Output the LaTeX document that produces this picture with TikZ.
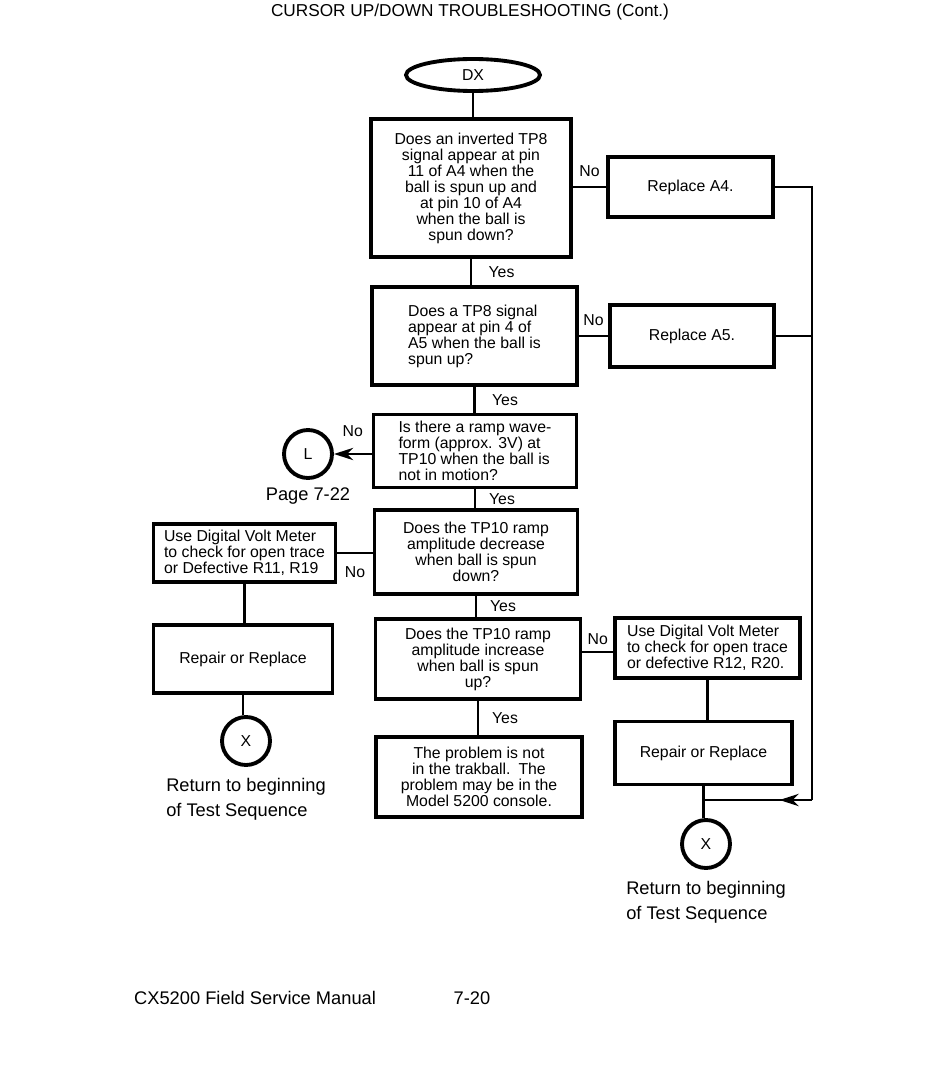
\documentclass[tikz,border=0pt]{standalone}
\usepackage{fontspec}
\setmainfont{Liberation Sans}
\usetikzlibrary{arrows.meta,shapes.geometric,decorations.markings}
\begin{document}
\begin{tikzpicture}[x=0.02cm,y=-0.02cm,
        box/.style={draw,line width=2.2pt,inner sep=2pt,font=\fontsize{9}{9.1}\selectfont},
        link/.style={line width=1.4pt},
        conn/.style={draw,circle,line width=2.2pt,minimum size=0.96cm,inner sep=0pt,font=\small},
        lbl/.style={font=\fontsize{9}{9}\selectfont},
        note/.style={font=\fontsize{10.4}{14}\selectfont,align=left}]
            \useasboundingbox (0,0) rectangle (950,1081);
            % header and footer
            \node (title) at (470,12) {\fontsize{9.8}{11}\selectfont CURSOR UP/DOWN TROUBLESHOOTING (Cont.)};
            \node[note,anchor=west] (manual) at (128,998) {CX5200 Field Service Manual};
            \node[note] (page) at (472,998) {7-20};
            % main column
            \node[draw,ellipse,line width=2.2pt,minimum width=2.68cm,minimum height=0.64cm,font=\small] (dx) at (473,75) {DX};
            \node[box,align=center,minimum width=4cm,minimum height=2.76cm] (q1) at (471,188) {Does an inverted TP8\\signal appear at pin\\11 of A4 when the\\ball is spun up and\\at pin 10 of A4\\when the ball is\\spun down?};
            \node[box,align=left,minimum width=4.1cm,minimum height=1.96cm] (q2) at (474.5,336) {Does a TP8 signal\\appear at pin 4 of\\A5 when the ball is\\spun up?};
            \node[box,align=left,minimum width=4.06cm,minimum height=1.46cm] (q3) at (475,451) {Is there a ramp wave-\\form (approx. 3V) at\\TP10 when the ball is\\not in motion?};
            \node[box,align=center,minimum width=4.06cm,minimum height=1.68cm] (q4) at (476,552) {Does the TP10 ramp\\amplitude decrease\\when ball is spun\\down?};
            \node[box,align=center,minimum width=4.1cm,minimum height=1.6cm] (q5) at (478,659) {Does the TP10 ramp\\amplitude increase\\when ball is spun\\up?};
            \node[box,align=center,minimum width=4.12cm,minimum height=1.6cm] (done) at (479,777) {The problem is not\\in the trakball.\enspace The\\problem may be in the\\Model 5200 console.};
            % right side
            \node[box,minimum width=3.3cm,minimum height=1.2cm] (a4) at (690.5,187) {Replace A4.};
            \node[box,minimum width=3.28cm,minimum height=1.24cm] (a5) at (692,336) {Replace A5.};
            \node[box,align=left,minimum width=3.7cm,minimum height=1.2cm] (dvm2) at (707.5,648) {Use Digital Volt Meter\\to check for open trace\\or defective R12, R20.};
            \node[box,minimum width=3.54cm,minimum height=1.26cm] (fix2) at (703.5,753) {Repair or Replace};
            \node[conn] (x2) at (706,844) {X};
            \node[note,below=3pt] (back2) at (x2.south) {Return to beginning\\of Test Sequence};
            % left side
            \node[conn] (l) at (308,454) {L};
            \node[note,below=1pt] (pg) at (l.south) {Page 7-22};
            \node[box,align=left,minimum width=3.64cm,minimum height=1.16cm] (dvm1) at (244.5,553) {Use Digital Volt Meter\\to check for open trace\\or Defective R11, R19};
            \node[box,minimum width=3.58cm,minimum height=1.36cm] (fix1) at (243,659) {Repair or Replace};
            \node[conn] (x1) at (246,741) {X};
            \node[note,below=3pt] (back1) at (x1.south) {Return to beginning\\of Test Sequence};
            % yes branches
            \draw[link] (dx.south) -- (dx.south |- q1.north);
            \draw[link] (q1.south) -- (q1.south |- q2.north) node[lbl,midway,right=6pt] {Yes};
            \draw[link] (q2.south) -- (q2.south |- q3.north) node[lbl,midway,right=6pt] {Yes};
            \draw[link] (q3.south) -- (q3.south |- q4.north) node[lbl,midway,right=4pt] {Yes};
            \draw[link] (q4.south) -- (q4.south |- q5.north) node[lbl,midway,right=4pt] {Yes};
            \draw[link] (q5.south) -- (q5.south |- done.north) node[lbl,midway,right=4pt] {Yes};
            % no branches
            \draw[link] (q1.east |- a4) -- (a4.west) node[lbl,midway,above=2pt] {No};
            \draw[link] (q2.east |- a5) -- (a5.west) node[lbl,midway,above=2pt] {No};
            \draw[link,-{Stealth[length=11pt,width=7pt]}] (q3.west |- l) -- (l.east) node[lbl,midway,above=6pt] {No};
            \draw[link] (q4.west |- dvm1) -- (dvm1.east) node[lbl,midway,below=4pt] {No};
            \draw[link] (q5.east |- 0,652) -- (dvm2.west |- 0,652) node[lbl,midway,above=0pt] {No};
            % repair paths
            \draw[link] (dvm1.south) -- (dvm1.south |- fix1.north);
            \draw[link] (fix1.south) -- (fix1.south |- x1.north);
            \draw[link] (dvm2.south) -- (dvm2.south |- fix2.north);
            \draw[link] (fix2.south) -- (fix2.south |- x2.north);
            % return rail
            \coordinate (rail) at (812,800);
            \draw[link] (a4.east) -| (rail);
            \draw[link] (a5.east) -- (a5.east -| rail);
            \draw[link,postaction={decorate},decoration={markings,mark=at position 0.3 with {\arrow{Stealth[length=11pt,width=7pt]}}}] (rail) -- (rail -| fix2.south);
\end{tikzpicture}
\end{document}
